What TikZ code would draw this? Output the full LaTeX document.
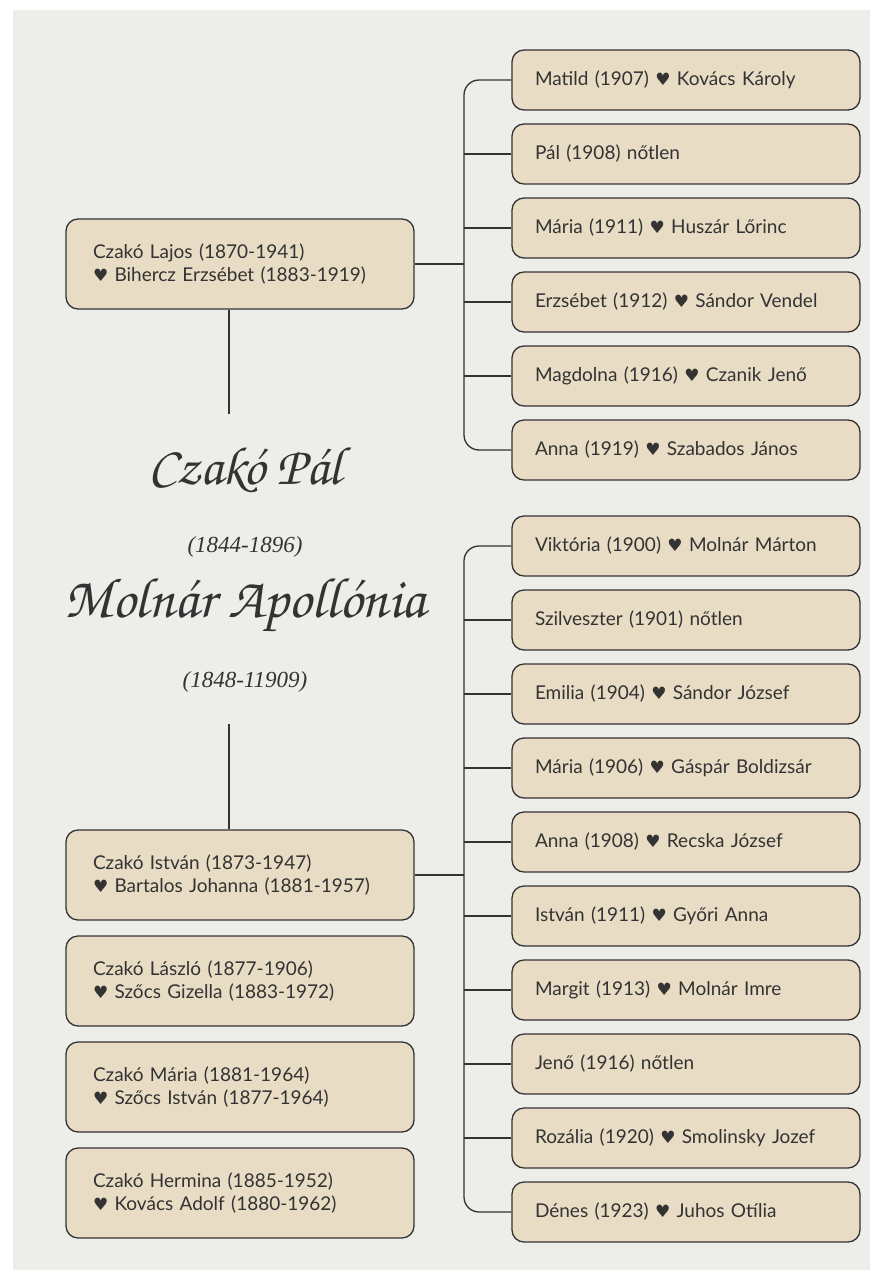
\documentclass[tikz,border=0pt]{standalone}
\usepackage{fontspec}
\usepackage{tikz}
\usetikzlibrary{calc,positioning}
\newfontfamily\boxfont{Lato}
\newfontfamily\heartfont{DejaVu Sans}
\newfontfamily\chorusfont{TeX Gyre Chorus}
\newfontfamily\yearfont{Liberation Serif}
\newcommand{\hrt}{{\heartfont\fontsize{17}{17}\selectfont ♥}}
\definecolor{paper}{HTML}{EDEDEA}
\definecolor{boxfill}{HTML}{E8DCC4}
\definecolor{ink}{HTML}{333333}
\tikzset{
  kid/.style={draw=ink, fill=boxfill, line width=1.3pt, rounded corners=12pt,
    minimum width=348pt, minimum height=60pt, text width=302pt, inner xsep=23pt,
    align=left, text=ink, font=\boxfont\fontsize{19}{23}\selectfont},
  parentbox/.style={kid, minimum height=90pt, text width=294pt, inner xsep=27pt},
  link/.style={draw=ink, line width=1.3pt},
  title/.style={text=ink, font=\chorusfont\fontsize{54}{54}\selectfont},
  years/.style={text=ink, font=\yearfont\itshape\fontsize{23}{23}\selectfont}
}
\begin{document}
\begin{tikzpicture}[x=1pt,y=-1pt]
\useasboundingbox (0,0) rectangle (878,1276);
\fill[paper] (13,10) rectangle (870,1270);

% parents
\node[title] (pal) at (245,470) {Czakó Pál};
\node[years] (palyears) at (245,547) {(1844-1896)};
\node[title, font=\chorusfont\fontsize{57}{57}\selectfont] (apol) at (245,605) {Molnár Apollónia};
\node[years] (apolyears) at (245,682) {(1848-11909)};

% children of Czako Pal
\node[parentbox] (lajos) at (240,264) {Czakó Lajos (1870-1941)\\\hrt\ Bihercz Erzsébet (1883-1919)};
\node[parentbox] (istvan) at (240,875) {Czakó István (1873-1947)\\\hrt\ Bartalos Johanna (1881-1957)};
\node[parentbox] (laszlo) at (240,981) {Czakó László (1877-1906)\\\hrt\ Szőcs Gizella (1883-1972)};
\node[parentbox] (maria) at (240,1087) {Czakó Mária (1881-1964)\\\hrt\ Szőcs István (1877-1964)};
\node[parentbox] (hermina) at (240,1193) {Czakó Hermina (1885-1952)\\\hrt\ Kovács Adolf (1880-1962)};

\coordinate (top) at (229,414);
\coordinate (bottom) at (229,724);
\draw[link] (top |- lajos.south) -- (top);
\draw[link] (bottom) -- (bottom |- istvan.north);

% grandchildren, Lajos
\foreach \n/\y/\txt in {
  1/80/{Matild (1907) \hrt\ Kovács Károly},
  2/154/{Pál (1908) nőtlen},
  3/228/{Mária (1911) \hrt\ Huszár Lőrinc},
  4/302/{Erzsébet (1912) \hrt\ Sándor Vendel},
  5/376/{Magdolna (1916) \hrt\ Czanik Jenő},
  6/450/{Anna (1919) \hrt\ Szabados János}}
  \node[kid] (l\n) at (686,\y) {\txt};

% grandchildren, Istvan
\foreach \n/\y/\txt in {
  1/546/{Viktória (1900) \hrt\ Molnár Márton},
  2/620/{Szilveszter (1901) nőtlen},
  3/694/{Emilia (1904) \hrt\ Sándor József},
  4/768/{Mária (1906) \hrt\ Gáspár Boldizsár},
  5/842/{Anna (1908) \hrt\ Recska József},
  6/916/{István (1911) \hrt\ Győri Anna},
  7/990/{Margit (1913) \hrt\ Molnár Imre},
  8/1064/{Jenő (1916) nőtlen},
  9/1138/{Rozália (1920) \hrt\ Smolinsky Jozef},
  10/1212/{Dénes (1923) \hrt\ Juhos Otília}}
  \node[kid] (i\n) at (686,\y) {\txt};

% brackets
\coordinate (spine) at (464,0);
\draw[link, rounded corners=15pt] (l1.west) -- (l1.west -| spine) -- (l6.west -| spine) -- (l6.west);
\foreach \n in {2,...,5}
  \draw[link] (l\n.west -| spine) -- (l\n.west);
\draw[link] (lajos.east) -- (lajos.east -| spine);

\draw[link, rounded corners=15pt] (i1.west) -- (i1.west -| spine) -- (i10.west -| spine) -- (i10.west);
\foreach \n in {2,...,9}
  \draw[link] (i\n.west -| spine) -- (i\n.west);
\draw[link] (istvan.east) -- (istvan.east -| spine);
\end{tikzpicture}
\end{document}
